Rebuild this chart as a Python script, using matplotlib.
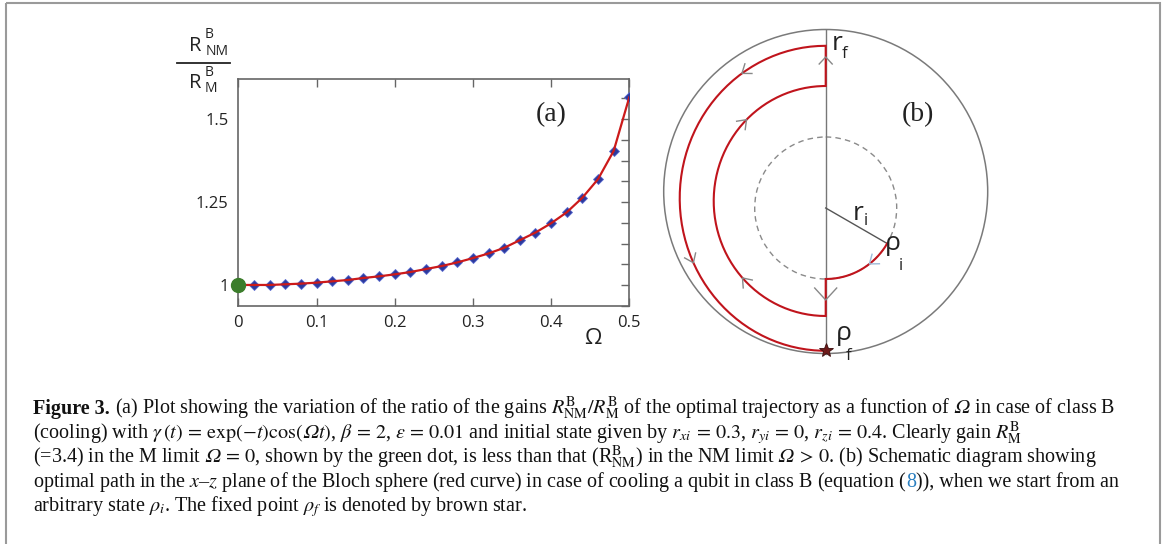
import numpy as np
import matplotlib
matplotlib.use("Agg")
import matplotlib.pyplot as plt
from matplotlib.patches import Rectangle, Circle

plt.rcParams["mathtext.fontset"] = "stix"

# panel (a) data
omega = [0.02, 0.04, 0.06, 0.08, 0.10, 0.12, 0.14, 0.16, 0.18, 0.20, 0.22, 0.24, 0.26,
         0.28, 0.30, 0.32, 0.34, 0.36, 0.38, 0.40, 0.42, 0.44, 0.46, 0.48, 0.50]
ratio = [1.000, 1.000, 1.002, 1.004, 1.007, 1.011, 1.015, 1.021, 1.026, 1.032, 1.039, 1.048, 1.057,
         1.068, 1.081, 1.095, 1.112, 1.135, 1.158, 1.186, 1.219, 1.263, 1.319, 1.404, 1.566]
omega_m = [0.0]
ratio_m = [1.0]
xticks = [0, 0.1, 0.2, 0.3, 0.4, 0.5]
xticklabels = ["0", "0.1", "0.2", "0.3", "0.4", "0.5"]
yticks = [1, 1.25, 1.5]
yticklabels = ["1", "1.25", "1.5"]

# caption, (text, style) per segment
OM = "\U0001D6FA"  # italic capital omega
caption = [
    [("Figure 3.", "b"),
     ("(a) Plot showing the variation of the ratio of the gains "
      r"$R^{\mathrm{B}}_{\mathrm{NM}}/R^{\mathrm{B}}_{\mathrm{M}}$ of the optimal trajectory as a function of "
      f"${OM}$ in case of class B", "n")],
    [(r"(cooling) with $\gamma\,(t)\,=\,\exp(-t)\cos(" + OM + r"t)$, $\beta\,=\,2$, $\epsilon\,=\,0.01$ "
      r"and initial state given by $r_{xi}\,=\,0.3$, $r_{yi}\,=\,0$, $r_{zi}\,=\,0.4$. Clearly gain "
      r"$R^{\mathrm{B}}_{\mathrm{M}}$", "n")],
    [(r"(=3.4) in the M limit $" + OM + r"\,=\,0$, shown by the green dot, is less than that "
      r"(R$^{\mathrm{B}}_{\mathrm{NM}}$) in the NM limit $" + OM + r"\,>\,0$. (b) Schematic diagram showing", "n")],
    [(r"optimal path in the $x$–$z$ plane of the Bloch sphere (red curve) in case of cooling a qubit "
      r"in class B (equation (", "n"), ("8", "link"), (")), when we start from an", "n")],
    [(r"arbitrary state $\rho_i$. The fixed point $\rho_f$ is denoted by brown star.", "n")],
]

sans = ["Open Sans", "DejaVu Sans"]
serif = ["Liberation Serif", "DejaVu Serif"]

fig = plt.figure(figsize=(11.65, 5.44), dpi=100)

# ---- panel (a)
W, H = 1165.0, 544.0
ax = fig.add_axes([238.3 / W, 1 - 305.7 / H, (629.3 - 238.3) / W, (305.7 - 79.3) / H])
ax.plot(omega, ratio, ls="none", marker="D", ms=5.5, color="#2d3a9c", mec="#5a6ad0", mew=0.6, zorder=3)
ax.plot(omega_m + omega, ratio_m + ratio, color="#cc1a1a", lw=1.6, zorder=4)
ax.plot(omega_m, ratio_m, marker="o", ms=10, color="#3b7d2b", ls="none", clip_on=False, zorder=5)
ax.set_xlim(0, 0.5)
ax.set_ylim(0.9377, 1.62)
ax.set_xticks(xticks)
ax.set_xticklabels(xticklabels)
ax.set_yticks(yticks)
ax.set_yticklabels(yticklabels)
ax.set_yticks(np.arange(1 - 0.0625, 1.62, 0.0625), minor=True)
ax.tick_params(axis="x", direction="in", top=True, bottom=True, length=6, width=1, color="#666",
               labelsize=12, labelcolor="#222", pad=7)
ax.tick_params(axis="y", which="both", direction="in", left=False, right=True, length=6, width=1,
               color="#666", labelsize=12, labelcolor="#222", pad=7)
for lab in ax.get_xticklabels() + ax.get_yticklabels():
    lab.set_family(sans)
for s in ax.spines.values():
    s.set_color("#666")
    s.set_linewidth(1.2)

# ---- overlay in pixel coords for labels, panel (b), caption
ov = fig.add_axes([0, 0, 1, 1])
ov.set_xlim(0, W)
ov.set_ylim(H, 0)
ov.axis("off")

ov.add_patch(Rectangle((6, 3), 1154, 600, fill=False, ec="#9a9a9a", lw=1.5))

# y label as a fraction
lab = dict(family=sans, color="#222", ha="center", va="center")
ov.text(195, 46, "R", fontsize=14.5, **lab)
ov.text(209, 35, "B", fontsize=10, **lab)
ov.text(217, 51.5, "NM", fontsize=10, **lab)
ov.plot([177, 230], [62.5, 62.5], color="#222", lw=1.3)
ov.text(195, 82.5, "R", fontsize=14.5, **lab)
ov.text(209, 72, "B", fontsize=10, **lab)
ov.text(211, 88.5, "M", fontsize=10, **lab)
ov.text(593, 339, "Ω", fontsize=16, **lab)
ov.text(551, 115, "(a)", fontsize=20, family=serif, color="#222", ha="center", va="center")

# ---- panel (b) schematic
cx = 825.7
outer_c, outer_r = 191.5, 162
dash_c, dash_r = 208.0, 71
inner_c, inner_rx, inner_ry = 201.0, 112, 115
big_c, big_rx, big_ry = 198.3, 146, 152.5
ri_angle = 30

ov.add_patch(Circle((cx, outer_c), outer_r, fill=False, ec="#7a7a7a", lw=1.1))
ov.add_patch(Circle((cx, dash_c), dash_r, fill=False, ec="#8a8a8a", lw=1.0, ls=(0, (4, 3))))
ov.plot([cx, cx], [outer_c - outer_r, outer_c + outer_r], color="#777", lw=1.0)
rho_i = (cx + dash_r * np.cos(np.radians(ri_angle)), dash_c + dash_r * np.sin(np.radians(ri_angle)))
ov.plot([cx, rho_i[0]], [dash_c, rho_i[1]], color="#555", lw=1.0)

t1 = np.radians(np.linspace(ri_angle, 90, 40))
t3 = np.radians(np.linspace(90, 270, 120))
t5 = np.radians(np.linspace(270, 90, 120))
px = np.concatenate([cx + dash_r * np.cos(t1), [cx], cx + inner_rx * np.cos(t3), [cx], cx + big_rx * np.cos(t5)])
py = np.concatenate([dash_c + dash_r * np.sin(t1), [inner_c + inner_ry],
                     inner_c + inner_ry * np.sin(t3), [big_c - big_ry], big_c + big_ry * np.sin(t5)])
ov.plot(px, py, color="#c0141c", lw=1.5, solid_joinstyle="miter")


def chevron(p, d, L=8, w=6, color="#888"):
    d = np.asarray(d, float)
    d = d / np.hypot(*d)
    n = np.array([-d[1], d[0]])
    p = np.asarray(p, float)
    a = p - L * d + w * n
    b = p - L * d - w * n
    ov.plot([a[0], p[0], b[0]], [a[1], p[1], b[1]], color=color, lw=1.0)


def on_ellipse(c, rx, ry, deg, sign):
    t = np.radians(deg)
    p = (cx + rx * np.cos(t), c + ry * np.sin(t))
    d = (-sign * rx * np.sin(t), sign * ry * np.cos(t))
    return p, d


chevron((cx, 57), (0, -1), L=7, w=6.5)
chevron((cx, 300), (0, 1), L=12, w=11)
chevron(*on_ellipse(big_c, big_rx, big_ry, 235, -1))
chevron(*on_ellipse(big_c, big_rx, big_ry, 155, -1))
chevron(*on_ellipse(inner_c, inner_rx, inner_ry, 138, 1))
chevron(*on_ellipse(inner_c, inner_rx, inner_ry, 225, 1))
chevron(*on_ellipse(dash_c, dash_r, dash_r, 52, 1), color="#9cbad8")
ov.plot([cx], [350], marker="*", ms=10, color="#6e1a1a", mec="#3a0d0d", mew=0.6)

lb = dict(family=sans, color="#222", ha="center", va="center")
ov.text(837, 44, "r", fontsize=19, **lb)
ov.text(844.5, 54, "f", fontsize=12, **lb)
ov.text(858.5, 214, "r", fontsize=19, **lb)
ov.text(866, 221, "i", fontsize=12, **lb)
ov.text(893, 244, "ρ", fontsize=19, **lb)
ov.text(901, 266, "i", fontsize=12, **lb)
ov.text(844, 333, "ρ", fontsize=19, **lb)
ov.text(849, 356, "f", fontsize=12, **lb)
ov.text(917.5, 115, "(b)", fontsize=20, family=serif, color="#222", ha="center", va="center")

# ---- caption
renderer = fig.canvas.get_renderer()
cap_size = 14.5
space = 0.25 * cap_size * 100 / 72
styles = {"n": dict(), "b": dict(weight="bold"), "link": dict(color="#2a7fc0")}
y = 414
for line in caption:
    x = 33
    for i, (txt, st) in enumerate(line):
        kw = dict(family=serif, fontsize=cap_size, color="#111", va="baseline", ha="left")
        kw.update(styles[st])
        t = ov.text(x, y, txt, **kw)
        x += t.get_window_extent(renderer).width
        if st == "b":
            x += space
    y += 24.4

fig.savefig("out.png", dpi=100)
